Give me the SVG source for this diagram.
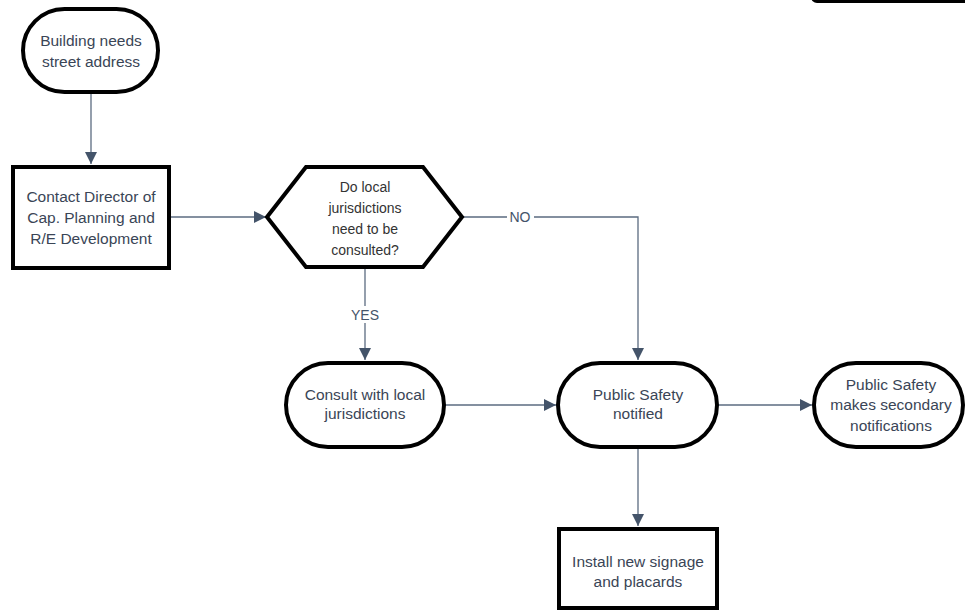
<svg xmlns="http://www.w3.org/2000/svg" width="965" height="612" viewBox="0 0 965 612">
<style>
.node{fill:#fff;stroke:#000;stroke-width:4}
.t{font-family:"Liberation Sans",Arial,sans-serif;font-size:15.5px;fill:#3a4556;text-anchor:middle}
.n{font-family:"Liberation Sans",Arial,sans-serif;font-size:14px;fill:#333;text-anchor:middle}
.c{fill:none;stroke:#5b6b80;stroke-width:1.3}
.lbl{font-family:"Liberation Sans",Arial,sans-serif;font-size:14px;fill:#44546a;text-anchor:middle}
</style>
<defs>
<marker id="ah" viewBox="0 0 12 12" refX="12" refY="6" markerWidth="12" markerHeight="12" markerUnits="userSpaceOnUse" orient="auto">
<path d="M0,0 L12,6 L0,12 z" fill="#44546a"/>
</marker>
</defs>
<rect width="965" height="612" fill="#fff"/>
<g id="connectors">
<line class="c" x1="91" y1="92" x2="91" y2="164" marker-end="url(#ah)"/>
<line class="c" x1="170" y1="217" x2="266" y2="217" marker-end="url(#ah)"/>
<polyline class="c" points="462,217 638,217 638,360" marker-end="url(#ah)"/>
<rect x="507" y="208" width="27" height="17" fill="#fff"/>
<text class="lbl" x="520" y="222">NO</text>
<line class="c" x1="365" y1="268" x2="365" y2="360" marker-end="url(#ah)"/>
<rect x="348" y="306" width="34" height="17" fill="#fff"/>
<text class="lbl" x="365" y="320">YES</text>
<line class="c" x1="445" y1="405" x2="556" y2="405" marker-end="url(#ah)"/>
<line class="c" x1="638" y1="448" x2="638" y2="526" marker-end="url(#ah)"/>
<line class="c" x1="717" y1="405" x2="812" y2="405" marker-end="url(#ah)"/>
</g>
<g id="offscreen">
<rect class="node" x="813" y="-60" width="160" height="61" rx="4"/>
</g>
<g id="start">
<rect class="node" x="23" y="9" width="135" height="83" rx="41.5"/>
<text class="t" x="91" y="46">Building needs</text>
<text class="t" x="91" y="67">street address</text>
</g>
<g id="contact">
<rect class="node" x="13" y="167" width="156" height="101"/>
<text class="t" x="91" y="202">Contact Director of</text>
<text class="t" x="91" y="223">Cap. Planning and</text>
<text class="t" x="91" y="244">R/E Development</text>
</g>
<g id="decision">
<polygon class="node" points="267,217 306,167 423,167 462,217 423,267 306,267"/>
<text class="n" x="365" y="192">Do local</text>
<text class="n" x="365" y="213">jurisdictions</text>
<text class="n" x="365" y="234">need to be</text>
<text class="n" x="365" y="255">consulted?</text>
</g>
<g id="consult">
<rect class="node" x="286" y="363" width="158" height="84" rx="42"/>
<text class="t" x="365" y="400">Consult with local</text>
<text class="t" x="365" y="419">jurisdictions</text>
</g>
<g id="notified">
<rect class="node" x="558" y="363" width="159" height="84" rx="42"/>
<text class="t" x="638" y="400">Public Safety</text>
<text class="t" x="638" y="419">notified</text>
</g>
<g id="secondary">
<rect class="node" x="814" y="363" width="149" height="84" rx="42"/>
<text class="t" x="891" y="390">Public Safety</text>
<text class="t" x="891" y="410">makes secondary</text>
<text class="t" x="891" y="431">notifications</text>
</g>
<g id="signage">
<rect class="node" x="559" y="529" width="158" height="79"/>
<text class="t" x="638" y="567">Install new signage</text>
<text class="t" x="638" y="587">and placards</text>
</g>
</svg>
